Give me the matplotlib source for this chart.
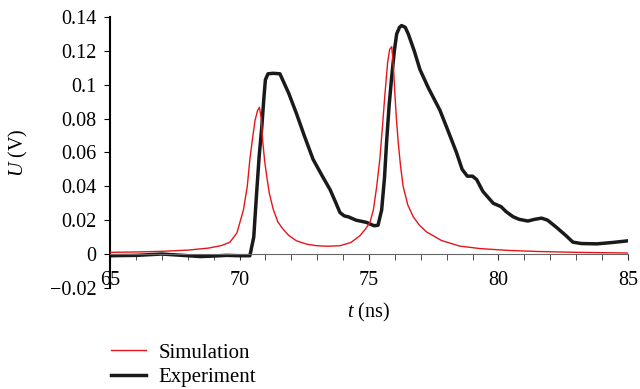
import matplotlib
matplotlib.use("Agg")
import matplotlib.pyplot as plt

plt.rcParams['font.family'] = ['Liberation Serif', 'DejaVu Serif']
plt.rcParams['mathtext.fontset'] = 'custom'
plt.rcParams['mathtext.rm'] = 'Liberation Serif'
plt.rcParams['mathtext.it'] = 'Liberation Serif:italic'

# simulation curve
sim_t = [65, 66, 67, 68, 68.8, 69.3, 69.63, 69.9, 70.15, 70.3, 70.4, 70.5, 70.6, 70.7,
         70.77, 70.84, 70.9, 70.97, 71.05, 71.15, 71.3, 71.48, 71.68, 71.9, 72.2, 72.6,
         72.98, 73.4, 73.88, 74.3, 74.65, 74.85, 75.04, 75.17, 75.3, 75.42, 75.52, 75.62,
         75.72, 75.8, 75.88, 75.94, 76.0, 76.06, 76.13, 76.22, 76.32, 76.5, 76.71, 76.95,
         77.23, 77.8, 78.5, 79.3, 80.3, 81.5, 83, 85]
sim_u = [0.001, 0.0012, 0.0016, 0.0023, 0.0035, 0.005, 0.007, 0.0125, 0.026, 0.040, 0.056,
         0.068, 0.079, 0.085, 0.0867, 0.080, 0.066, 0.055, 0.046, 0.036, 0.0265, 0.019,
         0.0147, 0.011, 0.0078, 0.0058, 0.0049, 0.0046, 0.0049, 0.0068, 0.0108, 0.0145,
         0.0187, 0.026, 0.040, 0.056, 0.075, 0.095, 0.113, 0.121, 0.1225, 0.112, 0.095,
         0.080, 0.066, 0.052, 0.040, 0.029, 0.022, 0.017, 0.013, 0.008, 0.0047, 0.0032,
         0.0022, 0.0015, 0.001, 0.0006]

# experiment curve
exp_t = [65, 66, 67, 68, 68.5, 69, 69.5, 70, 70.4, 70.55, 70.66, 70.76, 70.86, 70.94, 71.0,
         71.1, 71.3, 71.56, 71.9, 72.2, 72.5, 72.84, 73.2, 73.5, 73.7, 73.88, 74.05, 74.2,
         74.5, 74.9, 75.2, 75.35, 75.49, 75.6, 75.68, 75.78, 75.88, 75.98, 76.07, 76.18,
         76.26, 76.4, 76.52, 76.75, 76.97, 77.3, 77.74, 78.05, 78.38, 78.6, 78.8, 79.0,
         79.16, 79.4, 79.8, 80.1, 80.3, 80.57, 80.8, 81.14, 81.4, 81.67, 81.9, 82.24, 82.6,
         82.88, 83.2, 83.8, 84.4, 85]
exp_u = [-0.001, -0.0008, 0.0, -0.001, -0.0015, -0.0012, -0.0008, -0.001, -0.001, 0.01,
         0.036, 0.058, 0.075, 0.092, 0.103, 0.1065, 0.1068, 0.1065, 0.095, 0.083, 0.070,
         0.056, 0.046, 0.038, 0.031, 0.0245, 0.0225, 0.022, 0.020, 0.0187, 0.0167, 0.017,
         0.026, 0.045, 0.066, 0.088, 0.105, 0.120, 0.130, 0.134, 0.135, 0.134, 0.130, 0.120,
         0.109, 0.098, 0.085, 0.073, 0.060, 0.050, 0.046, 0.046, 0.044, 0.037, 0.030, 0.028,
         0.025, 0.022, 0.0205, 0.0195, 0.0205, 0.0212, 0.020, 0.0158, 0.011, 0.007, 0.0062,
         0.006, 0.0068, 0.0078]

x_ticks = [65, 70, 75, 80, 85]
y_ticks = [-0.02, 0, 0.02, 0.04, 0.06, 0.08, 0.1, 0.12, 0.14]
y_labels = ['\u22120.02', '0', '0.02', '0.04', '0.06', '0.08', '0.1', '0.12', '0.14']

fig = plt.figure(figsize=(6.4, 3.89), dpi=100)
ax = fig.add_axes([0.172, 0.26, 0.809, 0.696])

ax.plot(sim_t, sim_u, color='#e8141b', lw=1.0, label='Simulation', zorder=3)
ax.plot(exp_t, exp_u, color='#1a1a1a', lw=2.5, label='Experiment', zorder=2)

ax.set_xlim(65, 85)
ax.set_ylim(-0.02, 0.14)
ax.spines['top'].set_visible(False)
ax.spines['right'].set_visible(False)
ax.spines['bottom'].set_position(('data', 0))
ax.spines['bottom'].set_color('#666666')
ax.spines['left'].set_linewidth(1.5)

ax.set_xticks(x_ticks)
ax.set_xticks(range(65, 86), minor=True)
ax.set_yticks(y_ticks)
ax.set_yticklabels(y_labels)
ax.tick_params(axis='x', which='both', direction='out', length=4, pad=8,
               color='#333333', labelsize=14.5)
ax.tick_params(axis='y', direction='out', length=4, pad=6, labelsize=14.5)

ax.set_xlabel('$\\it{t}$ (ns)', fontsize=14.5, labelpad=8)
ax.set_ylabel('$\\it{U}$ (V)', fontsize=14.5, labelpad=14)

fig.legend(loc='upper left', bbox_to_anchor=(0.157, 0.145), frameon=False,
           fontsize=15, handlelength=1.7, labelspacing=0.25, handletextpad=0.6,
           borderpad=0)

fig.savefig('out.png', dpi=100)
